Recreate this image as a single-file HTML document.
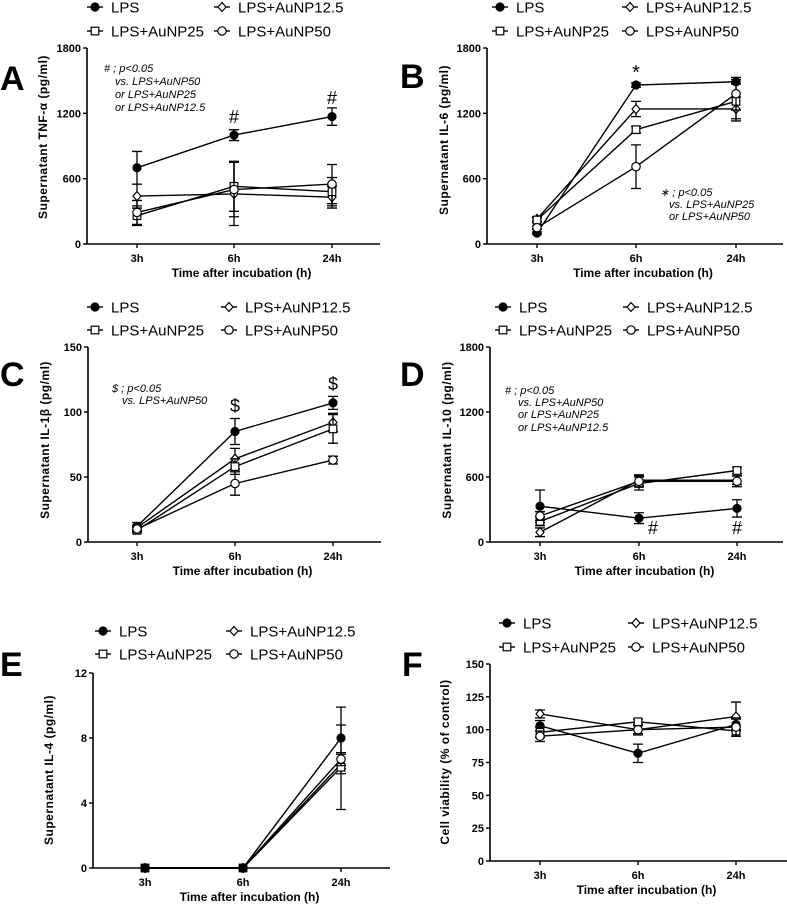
<!DOCTYPE html>
<html><head><meta charset="utf-8"><style>
body{margin:0;background:#fff;width:787px;height:904px;overflow:hidden}
svg{display:block;font-family:"Liberation Sans",Arial,sans-serif}
</style></head><body>
<svg id="fig" width="787" height="904" viewBox="0 0 787 904"></svg>
<script>
const timeLabels=["3h","6h","24h"];
const seriesNames=["LPS","LPS+AuNP12.5","LPS+AuNP25","LPS+AuNP50"];
// Panel A TNF-a
const aLPS=[700,1000,1170], aLPSerr=[150,50,80];
const aN12=[440,460,430], aN12err=[110,290,100];
const aN25=[260,530,480], aN25err=[90,230,130];
const aN50=[290,500,550], aN50err=[110,250,180];
const aTicks=[0,600,1200,1800];
// Panel B IL-6
const bLPS=[100,1460,1490], bLPSerr=[10,20,20];
const bN12=[230,1240,1240], bN12err=[20,70,110];
const bN25=[220,1050,1310], bN25err=[20,30,160];
const bN50=[150,710,1380], bN50err=[15,200,150];
const bTicks=[0,600,1200,1800];
// Panel C IL-1b
const cLPS=[12,85,107], cLPSerr=[3,10,5];
const cN12=[11,64,92], cN12err=[2,8,7];
const cN25=[9,58,87], cN25err=[2,6,11];
const cN50=[10,45,63], cN50err=[2,9,3];
const cTicks=[0,50,100,150];
// Panel D IL-10
const dLPS=[330,220,310], dLPSerr=[150,50,80];
const dN12=[90,570,570], dN12err=[40,50,40];
const dN25=[190,540,660], dN25err=[40,60,30];
const dN50=[240,560,560], dN50err=[40,50,50];
const dTicks=[0,600,1200,1800];
// Panel E IL-4
const eLPS=[0,0,8.0], eLPSerr=[0,0,1.9];
const eN12=[0,0,6.4], eN12err=[0,0,0.6];
const eN25=[0,0,6.2], eN25err=[0,0,2.6];
const eN50=[0,0,6.7], eN50err=[0,0,0.4];
const eTicks=[0,4,8,12];
// Panel F viability
const fLPS=[103,82,104], fLPSerr=[4,7,4];
const fN12=[112,100,110], fN12err=[3,4,11];
const fN25=[98,106,99], fN25err=[4,2,4];
const fN50=[95,100,102], fN50err=[4,3,7];
const fTicks=[0,25,50,75,100,125,150];

const NS="http://www.w3.org/2000/svg";
const svg=document.getElementById('fig');
function el(tag,attrs,parent,text){const e=document.createElementNS(NS,tag);for(const k in attrs)e.setAttribute(k,attrs[k]);if(text!==undefined)e.textContent=text;(parent||svg).appendChild(e);return e;}

function marker(g,type,x,y,fillAll){
  let m;const f=fillAll?'#000':'#fff';
  if(type===0){m=el('circle',{cx:x,cy:y,r:4,fill:'#000',stroke:'#000','stroke-width':1.2},g);}
  else if(type===1){m=el('path',{d:`M${x} ${y-4.5}L${x+4} ${y}L${x} ${y+4.5}L${x-4} ${y}Z`,fill:f,stroke:'#000','stroke-width':1.2},g);}
  else if(type===2){m=el('rect',{x:x-3.8,y:y-3.8,width:7.6,height:7.6,fill:f,stroke:'#000','stroke-width':1.2},g);}
  else {m=el('circle',{cx:x,cy:y,r:4.2,fill:f,stroke:'#000','stroke-width':1.2},g);}
  return m;
}
const keys=['lps','aunp12-5','aunp25','aunp50'];

function panel(p){
  const g=el('g',{});
  
  
  const ys=v=>p.y0-(v-p.min)/(p.max-p.min)*(p.y0-p.yTop);
  const xs=i=>p.xt[i];
  const ax=el('path',{d:`M${p.x0} ${p.yTop}V${p.y0}H${p.xEnd}`,fill:'none',stroke:'#000','stroke-width':1.6},g);
  
  
  p.ticks.forEach(t=>{
    const y=ys(t);
    el('line',{x1:p.x0-4,y1:y,x2:p.x0,y2:y,stroke:'#000','stroke-width':1.4},g);
    const tl=el('text',{x:p.x0-6,y:y+4,'text-anchor':'end','font-size':11,'font-weight':'bold'},g,String(t));
    
    
  });
  timeLabels.forEach((l,i)=>{
    el('line',{x1:xs(i),y1:p.y0,x2:xs(i),y2:p.y0+4,stroke:'#000','stroke-width':1.4},g);
    const tl=el('text',{x:xs(i),y:p.y0+18,'text-anchor':'middle','font-size':11,'font-weight':'bold'},g,l);
    
    
  });
  const xt=el('text',{x:(p.x0+p.xEnd)/2+8,y:p.y0+33,'text-anchor':'middle','font-size':12,'font-weight':'bold'},g,'Time after incubation (h)');
  
  
  const yt=el('text',{x:0,y:0,'text-anchor':'middle','font-size':12,'font-weight':'bold','letter-spacing':'0.5','xml:space':'preserve',transform:`translate(${p.ytX},${p.ytY}) rotate(-90)`},g,p.yTitle);
  
  
  const lt=el('text',{x:p.letter[0],y:p.letter[1],'font-size':34,'font-weight':'bold'},g,p.id.toUpperCase());
  
  
  p.series.forEach((s,k)=>{
    const sg=el('g',{},g);
    
    
    const pts=s.v.map((v,i)=>[xs(i),ys(v)]);
    const ln=el('polyline',{points:pts.map(q=>q.join(',')).join(' '),fill:'none',stroke:'#000','stroke-width':1.4},sg);
    
    
    s.v.forEach((v,i)=>{
      const e=s.e[i];
      if(e>0){
        const yA=ys(v+e),yB=ys(v-e),x=xs(i);
        const eb=el('path',{d:`M${x} ${yA}V${yB}M${x-5} ${yA}H${x+5}M${x-5} ${yB}H${x+5}`,stroke:'#000','stroke-width':1.3,fill:'none'},sg);
        
        
      }
    });
    s.v.forEach((v,i)=>{
      const m=marker(sg,k,xs(i),ys(v),p.fillZero&&v===0);
      
      
    });
  });
  const lg=el('g',{},g);
  
  
  const L=p.leg;
  const pos=[[L.x1,L.r1],[L.x2,L.r1],[L.x1,L.r2],[L.x2,L.r2]];
  seriesNames.forEach((n,k)=>{
    const eg=el('g',{},lg);
    
    
    const [x,y]=pos[k];
    el('line',{x1:x-8,y1:y,x2:x+8,y2:y,stroke:'#000','stroke-width':1.4},eg);
    marker(eg,k,x,y);
    el('text',{x:x+16,y:y+5.5,'font-size':15},eg,n);
  });
  (p.notes||[]).forEach(n=>{
    const t=el('text',{x:n[0],y:n[1],'font-size':n[3]||11,'font-style':n[4]||'italic','text-anchor':n[5]||'start'},g,n[2]);
    
    
  });
}

panel({id:'a',x0:87,xEnd:380,yTop:48,y0:244,min:0,max:1800,ticks:aTicks,xt:[137,234,332],
 series:[{v:aLPS,e:aLPSerr},{v:aN12,e:aN12err},{v:aN25,e:aN25err},{v:aN50,e:aN50err}],
 yTitle:'Supernatant TNF-\u03b1  (pg/ml)',ytX:47,ytY:137,letter:[0,90],
 leg:{x1:95,x2:222,r1:7,r2:31},
 notes:[[104,72,'# ; p<0.05'],[115,85,'vs. LPS+AuNP50'],[115,98,'or LPS+AuNP25'],[115,111,'or LPS+AuNP12.5'],
  [234,123,'#',18,'normal','middle'],[332,104,'#',18,'normal','middle']]});
panel({id:'b',x0:487,xEnd:783,yTop:48,y0:244,min:0,max:1800,ticks:bTicks,xt:[537,636,736],
 series:[{v:bLPS,e:bLPSerr},{v:bN12,e:bN12err},{v:bN25,e:bN25err},{v:bN50,e:bN50err}],
 yTitle:'Supernatant IL-6  (pg/ml)',ytX:448,ytY:140,letter:[400,88],
 leg:{x1:500,x2:630,r1:7,r2:31},
 notes:[[660,196,'\u2217 ; p<0.05'],[669,208,'vs. LPS+AuNP25'],[669,220,'or LPS+AuNP50'],
  [636,79,'*',20,'normal','middle']]});
panel({id:'c',x0:88,xEnd:381,yTop:347,y0:542,min:0,max:150,ticks:cTicks,xt:[137,235,333],
 series:[{v:cLPS,e:cLPSerr},{v:cN12,e:cN12err},{v:cN25,e:cN25err},{v:cN50,e:cN50err}],
 yTitle:'Supernatant IL-1\u03b2  (pg/ml)',ytX:49,ytY:440,letter:[0,386],
 leg:{x1:95,x2:229,r1:307,r2:330},
 notes:[[112,392,'$ ; p<0.05'],[122,404,'vs. LPS+AuNP50'],
  [235,412,'$',18,'normal','middle'],[333,390,'$',18,'normal','middle']]});
panel({id:'d',x0:490,xEnd:783,yTop:347,y0:542,min:0,max:1800,ticks:dTicks,xt:[540,639,737],
 series:[{v:dLPS,e:dLPSerr},{v:dN12,e:dN12err},{v:dN25,e:dN25err},{v:dN50,e:dN50err}],
 yTitle:'Supernatant IL-10  (pg/ml)',ytX:451,ytY:440,letter:[400,386],
 leg:{x1:503,x2:631,r1:307,r2:330},
 notes:[[505,394,'# ; p<0.05'],[518,406,'vs. LPS+AuNP50'],[518,418,'or LPS+AuNP25'],[518,431,'or LPS+AuNP12.5'],
  [653,534,'#',18,'normal','middle'],[737,534,'#',18,'normal','middle']]});
panel({id:'e',x0:93,xEnd:390,yTop:673,y0:868,min:0,max:12,ticks:eTicks,xt:[145,243,341],fillZero:true,
 series:[{v:eLPS,e:eLPSerr},{v:eN12,e:eN12err},{v:eN25,e:eN25err},{v:eN50,e:eN50err}],
 yTitle:'Supernatant IL-4  (pg/ml)',ytX:53,ytY:770,letter:[0,676],
 leg:{x1:103,x2:234,r1:631,r2:654}});
panel({id:'f',x0:490,xEnd:787,yTop:664,y0:861,min:0,max:150,ticks:fTicks,xt:[540,638,736],
 series:[{v:fLPS,e:fLPSerr},{v:fN12,e:fN12err},{v:fN25,e:fN25err},{v:fN50,e:fN50err}],
 yTitle:'Cell viability (% of control)',ytX:449,ytY:762,letter:[402,676],
 leg:{x1:507,x2:636,r1:623,r2:647}});
</script>
</body></html>
